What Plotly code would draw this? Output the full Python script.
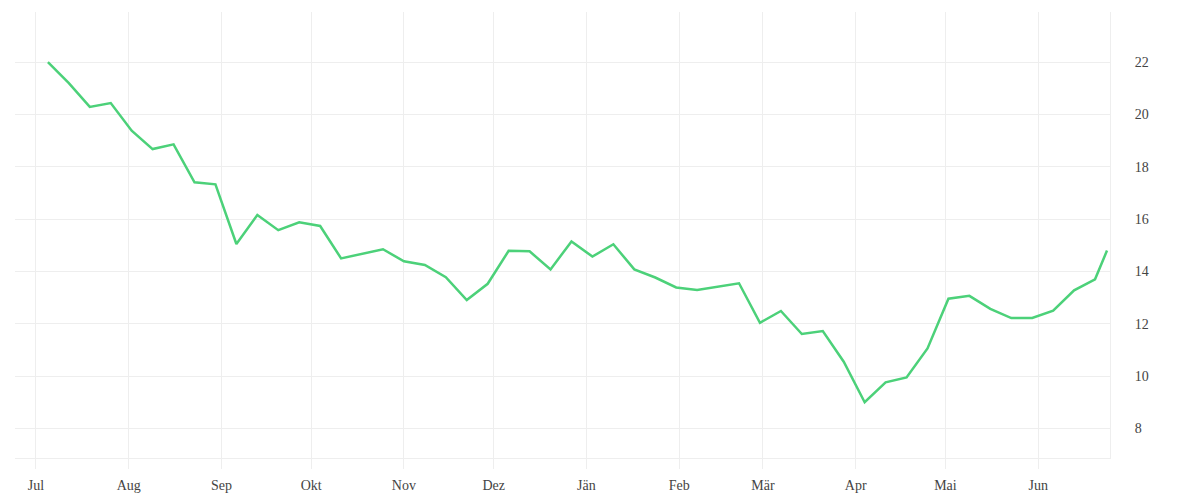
import plotly.graph_objects as go

dates = [
    "2022-07-05", "2022-07-12", "2022-07-19", "2022-07-26",
    "2022-08-02", "2022-08-09", "2022-08-16", "2022-08-23", "2022-08-30",
    "2022-09-06", "2022-09-13", "2022-09-20", "2022-09-27",
    "2022-10-04", "2022-10-11", "2022-10-18", "2022-10-25",
    "2022-11-01", "2022-11-08", "2022-11-15", "2022-11-22", "2022-11-29",
    "2022-12-06", "2022-12-13", "2022-12-20", "2022-12-27",
    "2023-01-03", "2023-01-10", "2023-01-17", "2023-01-24", "2023-01-31",
    "2023-02-07", "2023-02-14", "2023-02-21", "2023-02-28",
    "2023-03-07", "2023-03-14", "2023-03-21", "2023-03-28",
    "2023-04-04", "2023-04-11", "2023-04-18", "2023-04-25",
    "2023-05-02", "2023-05-09", "2023-05-16", "2023-05-23", "2023-05-30",
    "2023-06-06", "2023-06-13", "2023-06-20", "2023-06-24",
]

values = [
    22.0, 21.2, 20.29, 20.44, 19.38, 18.68, 18.86, 17.41, 17.33, 15.05,
    16.16, 15.58, 15.88, 15.74, 14.50, 14.67, 14.85, 14.39, 14.25, 13.78,
    12.91, 13.53, 14.79, 14.77, 14.08, 15.15, 14.57, 15.04, 14.08, 13.77,
    13.39, 13.29, 13.42, 13.55, 12.04, 12.49, 11.61, 11.72, 10.55, 9.0,
    9.76, 9.95, 11.06, 12.96, 13.07, 12.57, 12.22, 12.22, 12.50, 13.28,
    13.70, 14.80,
]

month_ticks = [
    "2022-07-01", "2022-08-01", "2022-09-01", "2022-10-01", "2022-11-01",
    "2022-12-01", "2023-01-01", "2023-02-01", "2023-03-01", "2023-04-01",
    "2023-05-01", "2023-06-01",
]
month_labels = ["Jul", "Aug", "Sep", "Okt", "Nov", "Dez",
                "Jän", "Feb", "Mär", "Apr", "Mai", "Jun"]

y_ticks = [8, 10, 12, 14, 16, 18, 20, 22]

grid = "#eeeeee"
font = dict(family="Liberation Serif, DejaVu Serif, serif", size=14, color="#444444")

fig = go.Figure(
    go.Scatter(
        x=dates, y=values, mode="lines",
        line=dict(color="#4cd179", width=2.5),
        hoverinfo="skip",
    )
)

fig.update_layout(
    width=1192, height=492,
    margin=dict(l=7, r=90, t=4, b=42),
    paper_bgcolor="white", plot_bgcolor="white",
    showlegend=False,
    font=font,
)

fig.update_xaxes(
    type="date",
    range=["2022-06-24", "2023-06-25"],
    tickvals=month_ticks, ticktext=month_labels,
    showgrid=True, gridcolor=grid, gridwidth=1,
    showline=True, linecolor=grid, linewidth=1,
    ticks="outside", ticklen=10, tickcolor=grid, tickwidth=1,
    ticklabelstandoff=4,
    zeroline=False,
    tickfont=font,
)

fig.update_yaxes(
    side="right",
    range=[6.87, 23.92],
    tickvals=y_ticks,
    showgrid=True, gridcolor=grid, gridwidth=1,
    showline=True, linecolor=grid, linewidth=1,
    ticks="", ticklabelstandoff=21,
    zeroline=False,
    tickfont=font,
)

fig.write_html("out.html")
